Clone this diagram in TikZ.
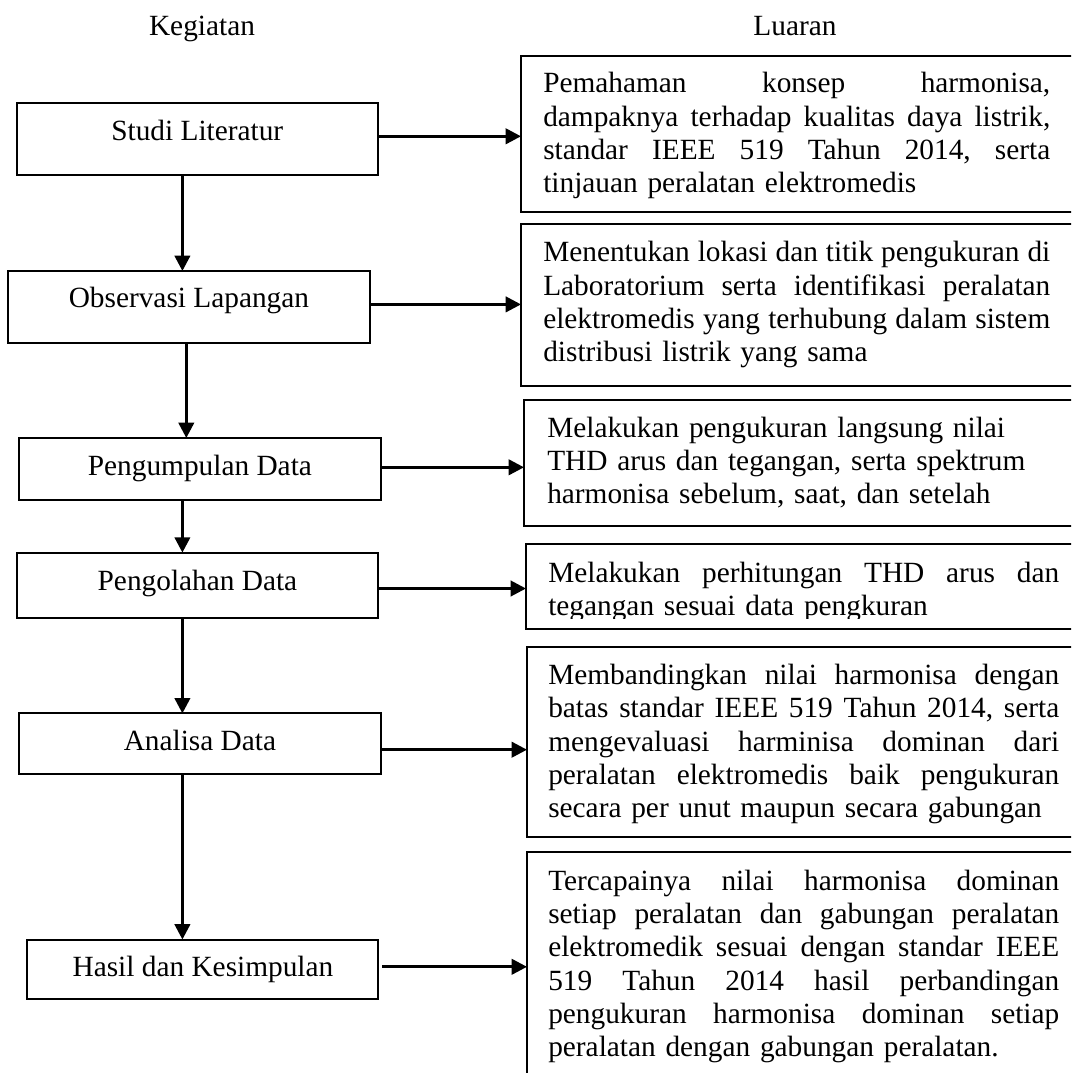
\documentclass[tikz,border=0pt]{standalone}
\usepackage{fontspec}
\setmainfont{Liberation Serif}
\usetikzlibrary{arrows.meta}
\newcommand\jline[2][383.25pt]{\leavevmode\hbox to #1{\frenchspacing\spaceskip=0.25em plus 1fil\relax #2}}
\begin{document}
\begin{tikzpicture}[x=0.75pt,y=-0.75pt,
  every node/.style={font=\fontsize{22pt}{25pt}\selectfont},
  lbox/.style={draw, line width=1.5pt, inner sep=0pt, outer sep=0pt, minimum height=0pt, align=center},
  rbox/.style={draw, line width=1.5pt, inner sep=0pt, outer sep=0pt, anchor=north west, minimum width=450pt},
  rtext/.style={anchor=base west, align=left, inner sep=0pt},
  arr/.style={line width=2.2pt, -{Triangle[length=11.5pt,width=11.5pt]}}
]
\useasboundingbox (0,0) rectangle (1071,1073);
\clip (0,0) rectangle (1071,1073);

% headers
\node[anchor=base] (hk) at (202,36) {Kegiatan};
\node[anchor=base] (hl) at (795,36) {Luaran};

% left column
\node[lbox, minimum width=271.1pt, text height=28.8pt, text depth=25.5pt] (studi) at (197.25,138.8) {Studi Literatur};
\node[lbox, minimum width=270.9pt, text height=27.4pt, text depth=26.85pt] (obs) at (188.9,307.15) {Observasi Lapangan};
\node[lbox, minimum width=270.9pt, text height=27.75pt, text depth=18.75pt] (peng) at (199.9,469) {Pengumpulan Data};
\node[lbox, minimum width=271.4pt, text height=28.05pt, text depth=21.3pt] (olah) at (197.45,585.5) {Pengolahan Data};
\node[lbox, minimum width=271.4pt, text height=28.05pt, text depth=17.6pt] (anal) at (199.95,743.85) {Analisa Data};
\node[lbox, minimum width=263.2pt, text height=27.75pt, text depth=17.1pt] (hasil) at (202.95,969.4) {Hasil dan Kesimpulan};

% right column boxes
\node[rbox, minimum height=117pt] (r1) at (521,56) {};
\node[rbox, minimum height=120.75pt] (r2) at (521,224.5) {};
\node[rbox, minimum height=94.5pt] (r3) at (524,400) {};
\node[rbox, minimum height=63.45pt] (r4) at (526,544) {};
\node[rbox, minimum height=142.9pt] (r5) at (527,646.5) {};
\node[rbox, minimum height=187.5pt] (r6) at (527,852) {};

% right column texts
\node[rtext, text width=400pt] (r1t) at (543,93) {%
\jline[380.25pt]{Pemahaman konsep harmonisa,}\\
\jline[380.25pt]{dampaknya terhadap kualitas daya listrik,}\\
\jline[380.25pt]{standar IEEE 519 Tahun 2014, serta}\\
tinjauan peralatan elektromedis};
\node[rtext, text width=400pt] (r2t) at (543,261.7) {%
\jline[380.25pt]{Menentukan lokasi dan titik pengukuran di}\\
\jline[380.25pt]{Laboratorium serta identifikasi peralatan}\\
\jline[380.25pt]{elektromedis yang terhubung dalam sistem}\\
distribusi listrik yang sama};
\node[rtext, text width=400pt] (r3t) at (547,437) {%
Melakukan pengukuran langsung nilai\\
THD arus dan tegangan, serta spektrum\\
harmonisa sebelum, saat, dan setelah};
\begin{scope}
\clip (526,544) rectangle (1071,618.5);
\node[rtext, text width=400pt] (r4t) at (548,582) {%
\jline{Melakukan perhitungan THD arus dan}\\
tegangan sesuai data pengkuran};
\end{scope}
\node[rtext, text width=400pt] (r5t) at (548,684.5) {%
\jline{Membandingkan nilai harmonisa dengan}\\
\jline{batas standar IEEE 519 Tahun 2014, serta}\\
\jline{mengevaluasi harminisa dominan dari}\\
\jline{peralatan elektromedis baik pengukuran}\\
secara per unut maupun secara gabungan};
\node[rtext, text width=400pt] (r6t) at (548,890) {%
\jline{Tercapainya nilai harmonisa dominan}\\
\jline{setiap peralatan dan gabungan peralatan}\\
\jline{elektromedik sesuai dengan standar IEEE}\\
\jline{519 Tahun 2014 hasil perbandingan}\\
\jline{pengukuran harmonisa dominan setiap}\\
peralatan dengan gabungan peralatan.};

% vertical connectors
\coordinate (ax) at (182.4,0);
\coordinate (bx) at (186.3,0);
\draw[arr] (studi.south -| ax) -- (obs.north -| ax);
\draw[arr] (obs.south -| bx) -- (peng.north -| bx);
\draw[arr] (peng.south -| ax) -- (olah.north -| ax);
\draw[arr] (olah.south -| ax) -- (anal.north -| ax);
\draw[arr] (anal.south -| ax) -- (hasil.north -| ax);

% horizontal connectors
\coordinate (y1) at (0,136.3);
\coordinate (y2) at (0,304.4);
\coordinate (y3) at (0,467.3);
\coordinate (y4) at (0,588.5);
\coordinate (y5) at (0,749.7);
\coordinate (y6) at (0,966.8);
\draw[arr] (studi.east |- y1) -- (r1.west |- y1);
\draw[arr] (obs.east |- y2) -- (r2.west |- y2);
\draw[arr] (peng.east |- y3) -- (r3.west |- y3);
\draw[arr] (olah.east |- y4) -- (r4.west |- y4);
\draw[arr] (anal.east |- y5) -- (r5.west |- y5);
\draw[arr] ([xshift=3pt]hasil.east |- y6) -- (r6.west |- y6);
\end{tikzpicture}
\end{document}
